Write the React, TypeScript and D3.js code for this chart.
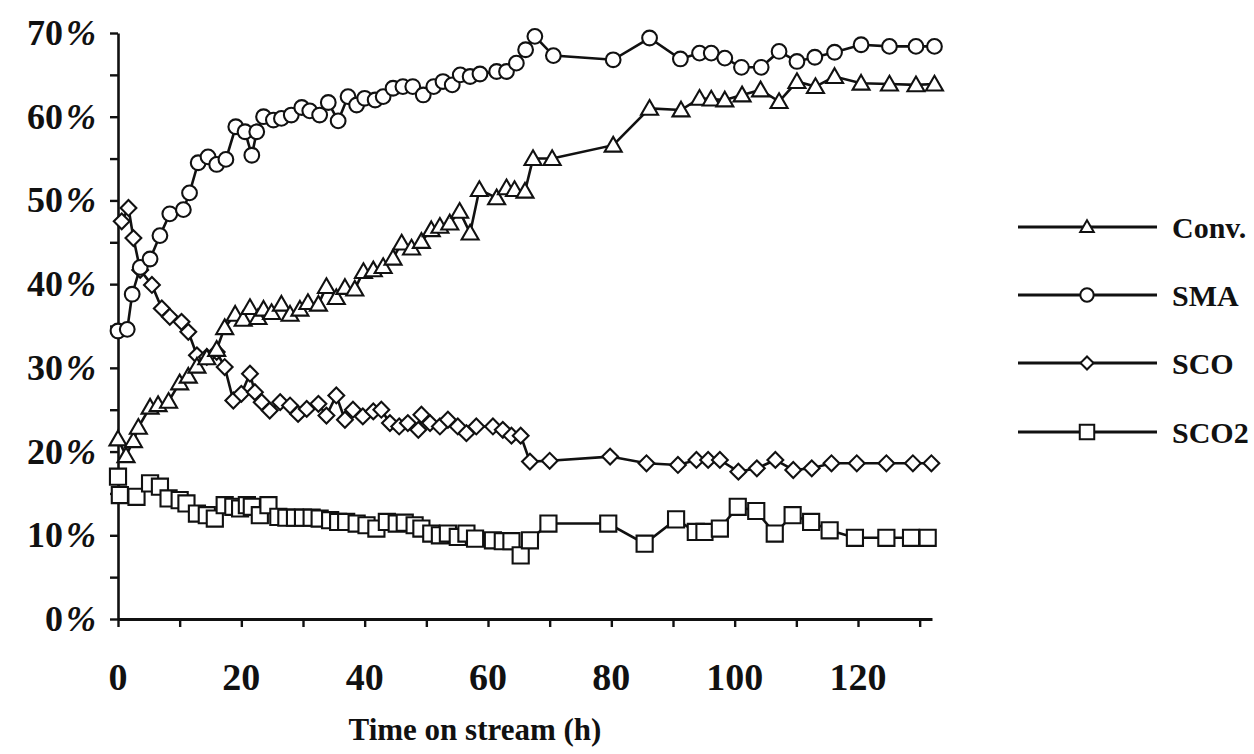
import React, { useEffect, useRef } from "react";
import * as d3 from "d3";

// ---- data (time in h, value in %) ----
const convTime = [0, 1.3, 2.5, 3.3, 5.2, 6.5, 8.2, 10.0, 11.4, 12.8, 14.4, 16.0, 17.3, 19.0, 20.3, 21.4, 22.7, 23.6, 24.9, 26.5, 27.9, 29.5, 30.8, 32.5, 33.8, 35.4, 36.8, 38.4, 39.8, 41.4, 43.0, 44.6, 46.0, 47.6, 49.2, 50.8, 52.2, 53.8, 55.4, 57.1, 58.6, 61.4, 63.0, 64.3, 66.0, 67.3, 70.4, 80.3, 86.2, 91.3, 94.3, 96.2, 98.4, 101.2, 104.2, 107.2, 110.1, 113.1, 116.2, 120.5, 125.1, 129.4, 132.4];
const convValues = [21.5, 19.5, 21.3, 22.9, 25.3, 25.6, 26.0, 28.2, 29.0, 30.2, 31.2, 32.2, 34.8, 36.4, 35.8, 37.2, 36.0, 37.0, 36.6, 37.6, 36.4, 37.0, 37.8, 37.6, 39.7, 38.4, 39.6, 39.4, 41.5, 41.7, 42.1, 43.1, 44.9, 44.3, 45.1, 46.5, 46.9, 47.3, 48.7, 46.1, 51.3, 50.3, 51.5, 51.3, 51.1, 55.0, 55.0, 56.6, 61.0, 60.8, 62.2, 62.1, 62.0, 62.6, 63.2, 61.8, 64.2, 63.6, 64.8, 64.0, 63.9, 63.8, 63.9];

const smaTime = [0, 1.5, 2.3, 3.6, 5.2, 6.8, 8.4, 10.6, 11.6, 13.0, 14.6, 16.0, 17.5, 19.1, 20.6, 21.7, 22.5, 23.6, 25.2, 26.5, 28.1, 29.8, 31.1, 32.7, 34.1, 35.7, 37.3, 38.7, 40.0, 41.7, 43.0, 44.6, 46.2, 47.8, 49.5, 51.2, 52.7, 54.2, 55.5, 57.1, 58.7, 61.4, 63.0, 64.6, 66.1, 67.6, 70.6, 80.3, 86.2, 91.2, 94.3, 96.2, 98.4, 101.1, 104.3, 107.2, 110.1, 113.0, 116.2, 120.5, 125.1, 129.4, 132.4];
const smaValues = [34.4, 34.6, 38.8, 42.0, 43.0, 45.8, 48.4, 48.9, 50.9, 54.5, 55.2, 54.3, 54.9, 58.8, 58.2, 55.4, 58.2, 60.0, 59.6, 59.8, 60.2, 61.1, 60.7, 60.2, 61.7, 59.5, 62.4, 61.4, 62.2, 62.0, 62.4, 63.4, 63.6, 63.6, 62.6, 63.6, 64.2, 63.8, 65.0, 64.8, 65.1, 65.4, 65.4, 66.4, 68.0, 69.6, 67.3, 66.8, 69.4, 66.9, 67.6, 67.6, 67.0, 65.9, 65.9, 67.8, 66.6, 67.1, 67.7, 68.6, 68.4, 68.4, 68.4];

const scoTime = [0.6, 1.7, 2.5, 3.6, 5.5, 7.1, 8.4, 10.3, 11.4, 12.8, 14.4, 16.0, 17.3, 18.7, 20.0, 21.4, 22.2, 23.3, 24.6, 26.3, 27.9, 29.2, 30.6, 32.5, 33.8, 35.4, 36.8, 38.1, 39.7, 41.4, 42.7, 44.1, 45.6, 47.0, 48.7, 49.2, 50.6, 52.2, 53.5, 55.1, 56.5, 58.1, 60.8, 62.4, 63.8, 65.3, 66.8, 70.0, 79.8, 85.7, 90.8, 93.8, 95.7, 97.6, 100.6, 103.6, 106.6, 109.5, 112.5, 115.7, 119.8, 124.6, 128.9, 131.9];
const scoValues = [47.5, 49.1, 45.5, 41.7, 39.9, 37.1, 36.1, 35.5, 34.3, 31.5, 31.3, 31.9, 30.1, 26.1, 26.9, 29.3, 27.1, 25.9, 24.9, 25.9, 25.5, 24.5, 25.1, 25.7, 24.3, 26.7, 23.8, 25.0, 24.2, 24.8, 25.0, 23.4, 23.0, 23.4, 22.6, 24.4, 23.4, 23.0, 23.8, 23.0, 22.2, 23.0, 23.0, 22.6, 21.9, 21.9, 18.8, 18.9, 19.4, 18.6, 18.4, 19.0, 19.0, 19.0, 17.6, 18.0, 19.0, 17.8, 18.0, 18.6, 18.6, 18.6, 18.6, 18.6];

const sco2Time = [0, 0.3, 3.0, 5.2, 6.8, 8.2, 10.0, 11.1, 12.8, 14.4, 15.7, 17.3, 18.7, 19.8, 20.9, 21.7, 23.0, 24.4, 26.0, 27.3, 28.7, 30.0, 31.4, 32.7, 34.4, 35.7, 37.0, 38.7, 40.3, 41.9, 43.6, 45.2, 46.5, 48.1, 49.2, 50.8, 52.2, 53.5, 55.1, 56.5, 57.9, 60.8, 62.4, 63.8, 65.3, 66.8, 69.8, 79.5, 85.4, 90.5, 93.7, 95.1, 97.6, 100.5, 103.5, 106.5, 109.4, 112.4, 115.4, 119.5, 124.6, 128.6, 131.3];
const sco2Values = [17.0, 14.8, 14.6, 16.2, 15.8, 14.4, 14.2, 13.8, 12.6, 12.4, 12.0, 13.6, 13.4, 13.2, 13.6, 13.4, 12.4, 13.6, 12.2, 12.1, 12.1, 12.1, 12.1, 12.0, 11.8, 11.6, 11.6, 11.4, 11.2, 10.8, 11.6, 11.4, 11.5, 11.2, 10.8, 10.2, 10.0, 10.2, 9.8, 10.2, 9.6, 9.4, 9.3, 9.3, 7.6, 9.4, 11.4, 11.4, 9.0, 11.9, 10.4, 10.4, 10.8, 13.4, 12.9, 10.2, 12.4, 11.6, 10.6, 9.7, 9.7, 9.7, 9.7];

const seriesNames = ["Conv.", "SMA", "SCO", "SCO2"];
const yTickValues = [0, 10, 20, 30, 40, 50, 60, 70];
const yMinorTicks = [0, 5, 10, 15, 20, 25, 30, 35, 40, 45, 50, 55, 60, 65, 70];
const xTickValues = [0, 20, 40, 60, 80, 100, 120];
const xMinorTicks = [0, 10, 20, 30, 40, 50, 60, 70, 80, 90, 100, 110, 120, 130];
const xTitle = "Time on stream (h)";

const FONT = "'Liberation Serif', 'Times New Roman', serif";

export default function App() {
  const ref = useRef<SVGSVGElement | null>(null);

  useEffect(() => {
    const svg = d3.select(ref.current);
    svg.selectAll("*").remove();

    const x = d3.scaleLinear().domain([0, 132]).range([118, 932]);
    const y = d3.scaleLinear().domain([0, 70]).range([619, 33]);

    // axes
    const yAxis = d3.axisLeft(y).tickValues(yMinorTicks).tickSize(8).tickSizeOuter(0).tickFormat(() => "");
    const gy = svg.append("g").attr("transform", `translate(${x(0)},0)`).call(yAxis);
    gy.select(".domain").attr("stroke", "#111").attr("stroke-width", 2.6);
    gy.selectAll(".tick line").attr("stroke", "#111").attr("stroke-width", 2.4);

    const xAxis = d3.axisBottom(x).tickValues(xMinorTicks).tickSize(8).tickSizeOuter(0).tickFormat(() => "");
    const gx = svg.append("g").attr("transform", `translate(0,${y(0)})`).call(xAxis);
    gx.select(".domain").attr("stroke", "#111").attr("stroke-width", 2.8);
    gx.selectAll(".tick line").attr("stroke", "#111").attr("stroke-width", 2.4);

    // y labels
    const yl = svg.append("g");
    yTickValues.forEach((v) => {
      const t = yl.append("text")
        .attr("x", 96)
        .attr("y", y(v) + 12)
        .attr("text-anchor", "end")
        .attr("font-family", FONT)
        .attr("font-weight", "bold")
        .attr("font-size", 36)
        .attr("fill", "#111");
      t.append("tspan").text(String(v));
      t.append("tspan").attr("dx", 3).attr("font-style", "italic").text("%");
    });

    // x labels
    xTickValues.forEach((v) => {
      svg.append("text")
        .attr("x", x(v))
        .attr("y", 690)
        .attr("text-anchor", "middle")
        .attr("font-family", FONT)
        .attr("font-weight", "bold")
        .attr("font-size", 38)
        .attr("fill", "#111")
        .text(String(v));
    });

    svg.append("text")
      .attr("x", 475)
      .attr("y", 740)
      .attr("text-anchor", "middle")
      .attr("font-family", FONT)
      .attr("font-weight", "bold")
      .attr("font-size", 31)
      .attr("fill", "#111")
      .text(xTitle);

    const sym = [
      d3.symbol().type(d3.symbolTriangle).size(125),
      d3.symbol().type(d3.symbolCircle).size(170),
      d3.symbol().type(d3.symbolSquare).size(125),
      d3.symbol().type(d3.symbolSquare).size(260),
    ];
    const rot = [0, 0, 45, 0];

    const allSeries = [
      { t: sco2Time, v: sco2Values, k: 3 },
      { t: scoTime, v: scoValues, k: 2 },
      { t: convTime, v: convValues, k: 0 },
      { t: smaTime, v: smaValues, k: 1 },
    ];

    const line = d3.line<[number, number]>().x((d) => x(d[0])).y((d) => y(d[1]));

    allSeries.forEach((s) => {
      const pts: [number, number][] = s.t.map((tt, i) => [tt, s.v[i]]);
      const g = svg.append("g");
      g.append("path")
        .attr("d", line(pts) || "")
        .attr("fill", "none")
        .attr("stroke", "#111")
        .attr("stroke-width", 2.6);
      g.selectAll("path.m")
        .data(pts)
        .enter()
        .append("path")
        .attr("class", "m")
        .attr("d", sym[s.k]() as string)
        .attr("transform", (d) => `translate(${x(d[0])},${y(d[1]) + (s.k === 0 ? 1.5 : 0)}) rotate(${rot[s.k]})`)
        .attr("fill", "#fff")
        .attr("stroke", "#111")
        .attr("stroke-width", 2.1);
    });

    // legend
    const legY = [227, 295, 363, 432];
    const lg = svg.append("g");
    seriesNames.forEach((name, i) => {
      lg.append("line")
        .attr("x1", 1018).attr("x2", 1157)
        .attr("y1", legY[i]).attr("y2", legY[i])
        .attr("stroke", "#111").attr("stroke-width", 2.8);
      const legendSym = [
        d3.symbol().type(d3.symbolTriangle).size(80),
        d3.symbol().type(d3.symbolCircle).size(140),
        d3.symbol().type(d3.symbolSquare).size(85),
        d3.symbol().type(d3.symbolSquare).size(210),
      ][i];
      lg.append("path")
        .attr("d", legendSym() as string)
        .attr("transform", `translate(1087,${legY[i] + (i === 0 ? 1 : 0)}) rotate(${rot[i]})`)
        .attr("fill", "#fff").attr("stroke", "#111").attr("stroke-width", 2);
      lg.append("text")
        .attr("x", 1172)
        .attr("y", legY[i] + 11)
        .attr("font-family", FONT)
        .attr("font-weight", "bold")
        .attr("font-size", 30)
        .attr("fill", "#111")
        .text(name);
    });
  }, []);

  return (
    <svg
      ref={ref}
      width={1254}
      height={754}
      style={{ position: "absolute", left: 0, top: 0, background: "#fff" }}
    />
  );
}
